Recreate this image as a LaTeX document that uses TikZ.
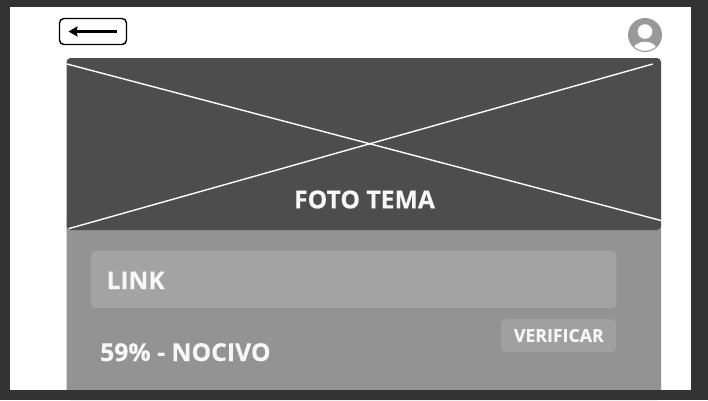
\documentclass[tikz,border=0pt]{standalone}
\usepackage{fontspec}
\setmainfont[BoldFeatures={FakeBold=0.25}]{Open Sans}
\usetikzlibrary{arrows.meta}
\definecolor{frameC}{HTML}{333333}
\definecolor{darkC}{HTML}{4D4D4D}
\definecolor{midC}{HTML}{939393}
\definecolor{boxC}{HTML}{A3A3A3}
\definecolor{btnC}{HTML}{A0A0A0}
\definecolor{avatarC}{HTML}{999999}
\definecolor{textC}{HTML}{F7F7F7}
\tikzset{
  px/.style={x=1pt,y=-1pt},
  label text/.style={text=textC,font=\bfseries\fontsize{#1}{#1}\selectfont,inner sep=0pt},
  cross line/.style={draw=white,line width=1.4pt},
  back box/.style={draw=black,line width=1.4pt,rounded corners=4.5pt,fill=white},
  back arrow/.style={draw=black,line width=2.2pt,-{Stealth[length=9pt,width=10pt,inset=1pt]}}
}
\begin{document}
\begin{tikzpicture}[px]
\useasboundingbox (0,0) rectangle (708,400);
\fill[frameC] (0,0) rectangle (708,400);
\fill[white] (10,7) rectangle (691,390);
% lower panel
\fill[midC,rounded corners=4pt] (66.5,220) rectangle (661,400);
\fill[frameC] (0,390) rectangle (708,400);
% upper panel
\fill[darkC,rounded corners=4pt] (66.5,58) rectangle (661,230);
% cross
\coordinate (a1) at (67,64);
\coordinate (a2) at (661,220.5);
\coordinate (b1) at (68.5,228.7);
\coordinate (b2) at (652.7,64);
\draw[cross line] (a1) -- (a2);
\draw[cross line] (b1) -- (b2);
\node[label text=24.7] (foto) at (364.5,199.5) {FOTO TEMA};
% link box
\fill[boxC,rounded corners=4pt] (91,251) rectangle (616,308);
\node[label text=24.4,anchor=base west] (link) at (106.5,289) {LINK};
\node[label text=24.7,anchor=base west] (pct) at (100,361) {59\% - NOCIVO};
% button
\fill[btnC,rounded corners=5pt] (501,319) rectangle (616,352);
\node[label text=17.7] (ver) at (558.8,335.5) {VERIFICAR};
% back button
\node[back box,minimum width=67pt,minimum height=26pt,inner sep=0pt] (back) at (93,31.5) {};
\coordinate (arrS) at (116.5,31.5);
\coordinate (arrE) at (68.5,31.5);
\draw[back arrow] (arrS) -- (arrE);
% avatar
\fill[avatarC] (645,35) circle[radius=17];
\begin{scope}
\clip (645,35) circle[radius=15.8];
\fill[white] (645,51) ellipse[x radius=12.5,y radius=9.3];
\end{scope}
\fill[white] (645,31.5) circle[radius=7.3];
\end{tikzpicture}
\end{document}
